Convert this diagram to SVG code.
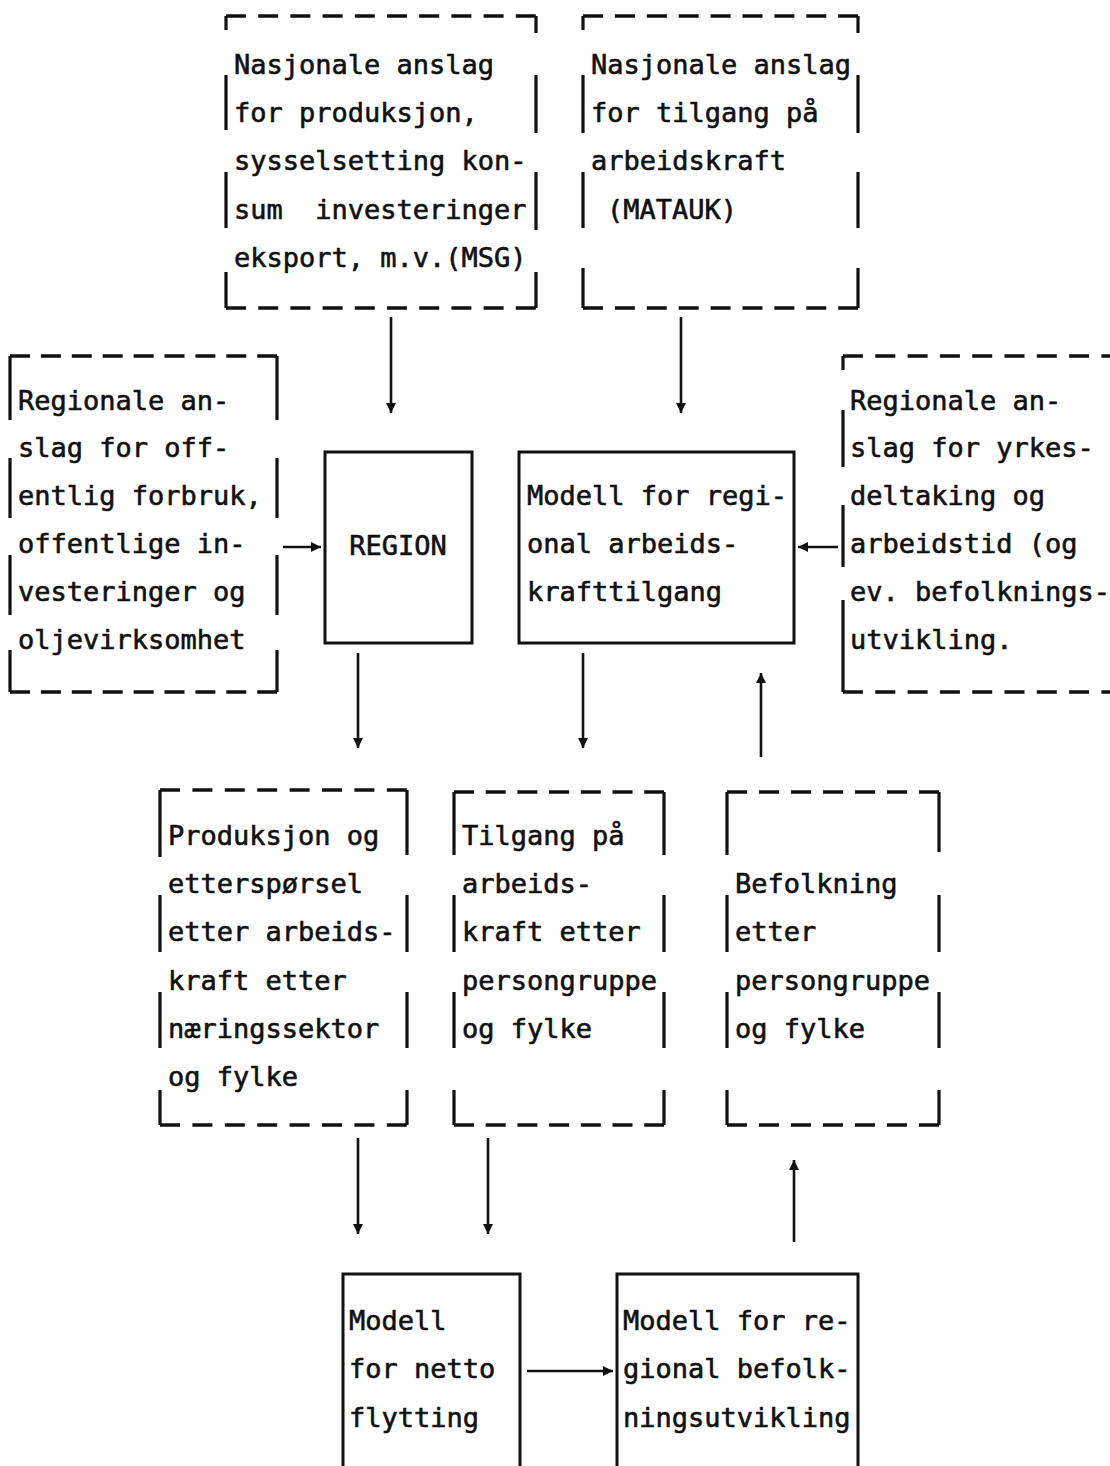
<svg xmlns="http://www.w3.org/2000/svg" width="1110" height="1466" viewBox="0 0 1110 1466">
<style>
  .t { font-family: "DejaVu Sans Mono", "Liberation Mono", monospace; font-size: 27px; fill: #111; stroke: #111; stroke-width: 0.6; }
  .dash { fill: none; stroke: #111; stroke-width: 3.4; }
  .side { fill: none; stroke: #111; stroke-width: 3.2; }
  .box { fill: none; stroke: #111; stroke-width: 3; }
  .conn { fill: none; stroke: #111; stroke-width: 2.6; marker-end: url(#ah); }
</style>
<defs>
  <marker id="ah" viewBox="0 0 10 10" refX="10" refY="5" markerWidth="11" markerHeight="10" markerUnits="userSpaceOnUse" orient="auto">
    <path d="M0,0 L10,5 L0,10 z" fill="#111"/>
  </marker>
</defs>
<rect width="1110" height="1466" fill="#fff"/>

<!-- Box 1: MSG -->
<g id="n-msg">
  <path class="dash" d="M226,16 H536 M226,308 H536" stroke-dasharray="20 12.2"/>
  <path class="side" d="M226,16 V30 M226,75 V130 M226,172 V228 M226,272 V308 M536,16 V33 M536,75 V133 M536,172 V230 M536,272 V308"/>
  <text class="t" x="234" y="74">Nasjonale anslag</text>
  <text class="t" x="234" y="122">for produksjon,</text>
  <text class="t" x="234" y="170">sysselsetting kon-</text>
  <text class="t" x="234" y="219" xml:space="preserve">sum  investeringer</text>
  <text class="t" x="234" y="267">eksport, m.v.(MSG)</text>
</g>

<!-- Box 2: MATAUK -->
<g id="n-matauk">
  <path class="dash" d="M583,16 H858 M583,308 H858" stroke-dasharray="20 11.9"/>
  <path class="side" d="M583,16 V30 M583,75 V133 M583,172 V228 M583,268 V308 M858,16 V33 M858,75 V133 M858,172 V228 M858,268 V308"/>
  <text class="t" x="591" y="74">Nasjonale anslag</text>
  <text class="t" x="591" y="122">for tilgang på</text>
  <text class="t" x="591" y="170">arbeidskraft</text>
  <text class="t" x="607" y="219">(MATAUK)</text>
</g>

<!-- Box 3: Regionale anslag offentlig -->
<g id="n-offentlig">
  <path class="dash" d="M10,356 H277 M10,692 H277" stroke-dasharray="20 10.9"/>
  <path class="side" d="M10,356 V420 M10,458 V518 M10,555 V615 M10,650 V692 M277,356 V420 M277,458 V518 M277,555 V615 M277,650 V692"/>
  <text class="t" x="18" y="410">Regionale an-</text>
  <text class="t" x="18" y="457">slag for off-</text>
  <text class="t" x="18" y="505">entlig forbruk,</text>
  <text class="t" x="18" y="553">offentlige in-</text>
  <text class="t" x="18" y="601">vesteringer og</text>
  <text class="t" x="18" y="649">oljevirksomhet</text>
</g>

<!-- Box 4: Regionale anslag yrkes -->
<g id="n-yrkes">
  <path class="dash" d="M843,356 H1115 M843,692 H1115" stroke-dasharray="20 12.3"/>
  <path class="side" d="M843,356 V370 M843,410 V467 M843,505 V567 M843,600 V692"/>
  <text class="t" x="850" y="410">Regionale an-</text>
  <text class="t" x="850" y="457">slag for yrkes-</text>
  <text class="t" x="850" y="505">deltaking og</text>
  <text class="t" x="850" y="553">arbeidstid (og</text>
  <text class="t" x="850" y="601">ev. befolknings-</text>
  <text class="t" x="850" y="649">utvikling.</text>
</g>

<!-- REGION -->
<g id="n-region">
  <rect class="box" x="325" y="452" width="147" height="191"/>
  <text class="t" x="398" y="555" text-anchor="middle">REGION</text>
</g>

<!-- Modell for regional arbeidskrafttilgang -->
<g id="n-modell-arbeid">
  <rect class="box" x="519" y="452" width="275" height="191"/>
  <text class="t" x="527" y="505">Modell for regi-</text>
  <text class="t" x="527" y="553">onal arbeids-</text>
  <text class="t" x="527" y="601">krafttilgang</text>
</g>

<!-- Box 5: Produksjon -->
<g id="n-produksjon">
  <path class="dash" d="M160,790 H407 M160,1125 H407" stroke-dasharray="20 12.4"/>
  <path class="side" d="M160,790 V857 M160,895 V952 M160,992 V1048 M160,1090 V1125 M407,790 V855 M407,895 V952 M407,992 V1048 M407,1090 V1125"/>
  <text class="t" x="168" y="845">Produksjon og</text>
  <text class="t" x="168" y="893">etterspørsel</text>
  <text class="t" x="168" y="941">etter arbeids-</text>
  <text class="t" x="168" y="990">kraft etter</text>
  <text class="t" x="168" y="1038">næringssektor</text>
  <text class="t" x="168" y="1086">og fylke</text>
</g>

<!-- Box 6: Tilgang -->
<g id="n-tilgang">
  <path class="dash" d="M454,792 H664 M454,1125 H664" stroke-dasharray="20 11.7"/>
  <path class="side" d="M454,792 V855 M454,895 V952 M454,992 V1048 M454,1090 V1125 M664,792 V855 M664,895 V952 M664,992 V1048 M664,1090 V1125"/>
  <text class="t" x="462" y="845">Tilgang på</text>
  <text class="t" x="462" y="893">arbeids-</text>
  <text class="t" x="462" y="941">kraft etter</text>
  <text class="t" x="462" y="990">persongruppe</text>
  <text class="t" x="462" y="1038">og fylke</text>
</g>

<!-- Box 7: Befolkning -->
<g id="n-befolkning">
  <path class="dash" d="M727,792 H939 M727,1125 H939" stroke-dasharray="20 12"/>
  <path class="side" d="M727,792 V855 M727,895 V952 M727,992 V1048 M727,1090 V1125 M939,792 V852 M939,895 V952 M939,992 V1048 M939,1090 V1125"/>
  <text class="t" x="735" y="893">Befolkning</text>
  <text class="t" x="735" y="941">etter</text>
  <text class="t" x="735" y="990">persongruppe</text>
  <text class="t" x="735" y="1038">og fylke</text>
</g>

<!-- Modell for netto flytting -->
<g id="n-netto">
  <rect class="box" x="343" y="1274" width="177" height="200"/>
  <text class="t" x="349" y="1330">Modell</text>
  <text class="t" x="349" y="1378">for netto</text>
  <text class="t" x="349" y="1427">flytting</text>
</g>

<!-- Modell for regional befolkningsutvikling -->
<g id="n-modell-befolk">
  <rect class="box" x="617" y="1274" width="241" height="200"/>
  <text class="t" x="623" y="1330">Modell for re-</text>
  <text class="t" x="623" y="1378">gional befolk-</text>
  <text class="t" x="623" y="1427">ningsutvikling</text>
</g>

<g id="connectors">
  <path class="conn" d="M391,317 V413"/>
  <path class="conn" d="M681,317 V413"/>
  <path class="conn" d="M283,547 H321"/>
  <path class="conn" d="M838,547 H798"/>
  <path class="conn" d="M358,653 V748"/>
  <path class="conn" d="M583,653 V748"/>
  <path class="conn" d="M761,757 V673"/>
  <path class="conn" d="M358,1138 V1234"/>
  <path class="conn" d="M488,1138 V1234"/>
  <path class="conn" d="M794,1242 V1160"/>
  <path class="conn" d="M527,1371 H613"/>
</g>
</svg>
